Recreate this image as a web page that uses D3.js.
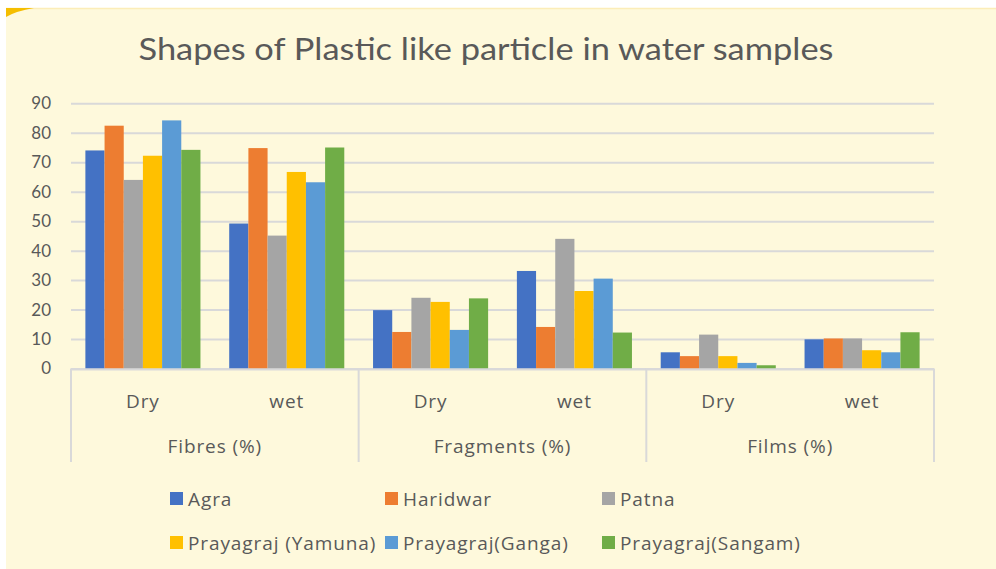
<!DOCTYPE html>
<html>
<head>
<meta charset="utf-8">
<script src="https://cdn.jsdelivr.net/npm/d3@7"></script>
<style>
  body { margin: 0; background: #ffffff; }
  text { font-family: Lato, "Open Sans", sans-serif; fill: #595959; }
  .lbl { font-family: "Open Sans", sans-serif; letter-spacing: 0.9px; }
</style>
</head>
<body>
<svg id="chart" width="996" height="569"></svg>
<script>
// data
const groups = ["Fibres (%)", "Fragments (%)", "Films (%)"];
const seasons = ["Dry", "wet"];
const cities = ["Agra", "Haridwar", "Patna", "Prayagraj (Yamuna)", "Prayagraj(Ganga)", "Prayagraj(Sangam)"];
const agra = [74, 49.2, 19.8, 33.1, 5.5, 9.9];
const haridwar = [82.4, 74.8, 12.4, 14.1, 4.2, 10.2];
const patna = [64, 45.1, 24, 44, 11.5, 10.2];
const yamuna = [72.2, 66.7, 22.6, 26.3, 4.2, 6.2];
const ganga = [84.2, 63.2, 13.1, 30.5, 1.9, 5.5];
const sangam = [74.2, 75, 23.8, 12.2, 1.1, 12.3];
const yTicks = [0, 10, 20, 30, 40, 50, 60, 70, 80, 90];
const colors = ["#4472C4", "#ED7D31", "#A5A5A5", "#FFC000", "#5B9BD5", "#70AD47"];

const seriesValues = [agra, haridwar, patna, yamuna, ganga, sangam];
const cats = [];
groups.forEach(g => seasons.forEach(s => cats.push(g + "|" + s)));

const svg = d3.select("#chart");

// panel background
svg.append("rect").attr("x", 6).attr("y", 8).attr("width", 990).attr("height", 561)
  .attr("fill", "#FEF9DC");
svg.append("line").attr("x1", 6).attr("x2", 996).attr("y1", 8.5).attr("y2", 8.5)
  .attr("stroke", "#FCEDB8").attr("stroke-width", 1.5);
svg.append("path").attr("d", "M6,8 L34,8 Q16,11 6,17 Z").attr("fill", "#F5BE00");

svg.append("text").attr("x", 486).attr("y", 60).attr("text-anchor", "middle")
  .attr("font-size", 30).attr("textLength", 695).attr("lengthAdjust", "spacingAndGlyphs")
  .text("Shapes of Plastic like particle in water samples");

const plotL = 71, plotR = 934, plotT = 103.3, base = 368.5;
const x0 = d3.scaleBand().domain(cats).range([plotL, plotR]).paddingInner(0.2).paddingOuter(0.1);
const x1 = d3.scaleBand().domain(d3.range(cities.length)).range([0, x0.bandwidth()]);
const y = d3.scaleLinear().domain([0, 90]).range([base, plotT]);

// gridlines + y labels
const yAxis = svg.append("g").attr("transform", `translate(${plotL},0)`)
  .call(d3.axisLeft(y).tickValues(yTicks).tickSize(-(plotR - plotL)).tickPadding(20));
yAxis.select(".domain").remove();
yAxis.selectAll(".tick line").attr("stroke", "#D9D9D9").attr("stroke-width", 2);
yAxis.selectAll(".tick text").attr("font-size", 17).attr("fill", "#595959")
  .style("font-family", "Lato, sans-serif");

// bars
const rows = cats.map((c, i) => ({ cat: c, vals: seriesValues.map(s => s[i]) }));
svg.append("g").selectAll("g").data(rows).join("g")
  .attr("transform", d => `translate(${x0(d.cat)},0)`)
  .selectAll("rect").data(d => d.vals).join("rect")
  .attr("x", (d, i) => x1(i))
  .attr("width", x1.bandwidth())
  .attr("y", d => y(d))
  .attr("height", d => y(0) - y(d))
  .attr("fill", (d, i) => colors[i]);

// category axis box
const axisG = svg.append("g").attr("stroke", "#D9D9D9").attr("stroke-width", 2);
axisG.append("line").attr("x1", plotL).attr("x2", plotR).attr("y1", base + 1).attr("y2", base + 1);
const step = x0.step();
const groupEdges = groups.map((g, i) => plotL + i * 2 * step).concat([plotR]);
axisG.selectAll(".sep").data(groupEdges).join("line")
  .attr("x1", d => d).attr("x2", d => d).attr("y1", base).attr("y2", 462);

svg.append("g").selectAll("text").data(cats).join("text").attr("class", "lbl")
  .attr("x", d => x0(d) + x0.bandwidth() / 2).attr("y", 408)
  .attr("text-anchor", "middle").attr("font-size", 19)
  .text(d => d.split("|")[1]);

svg.append("g").selectAll("text").data(groups).join("text").attr("class", "lbl")
  .attr("x", (d, i) => plotL + (i * 2 + 1) * step).attr("y", 453)
  .attr("text-anchor", "middle").attr("font-size", 19)
  .text(d => d);

// legend
const legendX = [170, 385, 602];
const legendY = [499, 543];
const leg = svg.append("g").selectAll("g").data(cities).join("g")
  .attr("transform", (d, i) => `translate(${legendX[i % 3]},${legendY[Math.floor(i / 3)]})`);
leg.append("rect").attr("x", 0).attr("y", -7).attr("width", 13).attr("height", 13)
  .attr("fill", (d, i) => colors[i]);
leg.append("text").attr("class", "lbl").attr("x", 18).attr("y", 7).attr("font-size", 19).text(d => d);
</script>
</body>
</html>
